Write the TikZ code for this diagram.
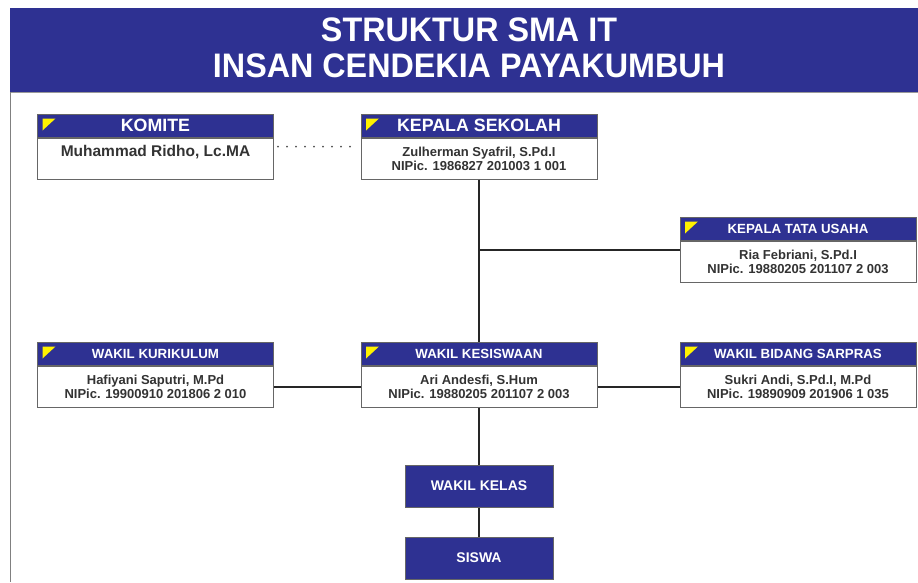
\documentclass[tikz,border=0pt]{standalone}
\usepackage{fontspec}
\setmainfont{Liberation Sans}
\newfontfamily\titlefont[FakeStretch=0.95]{Liberation Sans}
\usetikzlibrary{positioning,calc}
\definecolor{navy}{HTML}{2E3192}
\definecolor{flag}{HTML}{FFF200}
\definecolor{rim}{HTML}{666666}
\definecolor{ink}{HTML}{333333}

\begin{document}
\begin{tikzpicture}[x=1pt,y=-1pt,
hdr/.style={draw=rim, fill=navy, text=white, line width=1pt, inner sep=0pt,
  minimum width=236pt, minimum height=23pt, font=\bfseries\fontsize{13.3}{16}\selectfont},
body/.style={draw=rim, fill=white, text=ink, line width=1pt, inner sep=0pt, align=center,
  minimum width=236pt, minimum height=41pt, font=\bfseries\fontsize{13}{14}\selectfont},
plainbox/.style={draw=rim, fill=navy, text=white, line width=1pt,
  minimum width=148pt, minimum height=42pt, font=\bfseries\fontsize{14}{16}\selectfont},
link/.style={-, line width=2pt, draw=black!85}]
\useasboundingbox (0,0) rectangle (918,582);
% banner
\fill[navy] (10,8) rectangle (918,92);
\draw[gray!80, line width=1.2pt] (10,92.5) -- (918,92.5);
\draw[gray, line width=1.5pt] (10.5,92) -- (10.5,582);
\node (title) at (469,47.5) [text=white, align=center,
  font=\titlefont\bfseries\fontsize{34}{36}\selectfont]
  {STRUKTUR SMA IT\\INSAN CENDEKIA PAYAKUMBUH};

% boxes
\node (kom-h) at (155.5,125.5) [hdr, font=\bfseries\fontsize{17.8}{18}\selectfont] {KOMITE};
\node (kom) [body, below=0pt of kom-h, font=\bfseries\fontsize{15.5}{16}\selectfont] {Muhammad Ridho, Lc.MA\\\mbox{}};
\node (ks-h) at (479,125.5) [hdr, font=\bfseries\fontsize{17.8}{18}\selectfont] {KEPALA SEKOLAH};
\node (ks) [body, below=0pt of ks-h] {Zulherman Syafril, S.Pd.I\\NIPic. 1986827 201003 1 001};
\node (ktu-h) at (798,228.5) [hdr] {KEPALA TATA USAHA};
\node (ktu) [body, below=0pt of ktu-h] {Ria Febriani, S.Pd.I\\NIPic. 19880205 201107 2 003};
\node (wk-h) at (155.5,353.5) [hdr] {WAKIL KURIKULUM};
\node (wk) [body, below=0pt of wk-h] {Hafiyani Saputri, M.Pd\\NIPic. 19900910 201806 2 010};
\node (wks-h) at (479,353.5) [hdr] {WAKIL KESISWAAN};
\node (wks) [body, below=0pt of wks-h] {Ari Andesfi, S.Hum\\NIPic. 19880205 201107 2 003};
\node (wbs-h) at (798,353.5) [hdr] {WAKIL BIDANG SARPRAS};
\node (wbs) [body, below=0pt of wbs-h] {Sukri Andi, S.Pd.I, M.Pd\\NIPic. 19890909 201906 1 035};
\node (kelas) at (479,486) [plainbox] {WAKIL KELAS};
\node (siswa) at (479,558) [plainbox] {SISWA};

\foreach \h in {kom-h,ks-h,ktu-h,wk-h,wks-h,wbs-h}
  \fill[flag] ([shift={(5.5,5)}]\h.north west) -- ++(13,0) -- ++(-13,12) -- cycle;

% connectors
\coordinate (kom-r) at ($(kom-h.north east)!0.5!(kom.south east)$);
\coordinate (ks-l) at ($(ks-h.north west)!0.5!(ks.south west)$);
\coordinate (ktu-l) at ($(ktu-h.north west)!0.5!(ktu.south west)$);
\draw[line width=2pt, line cap=round, dash pattern=on 0pt off 9pt, draw=black!70]
  ([xshift=4pt]kom-r) -- ([xshift=-3pt]ks-l);
\draw[link] (ks) -- (wks-h);
\draw[link] (ktu-l) -- (ktu-l -| ks.south);
\draw[link] (wk) -- (wks);
\draw[link] (wks) -- (wbs);
\draw[link] (wks) -- (kelas);
\draw[link] (kelas) -- (siswa);
\end{tikzpicture}
\end{document}
